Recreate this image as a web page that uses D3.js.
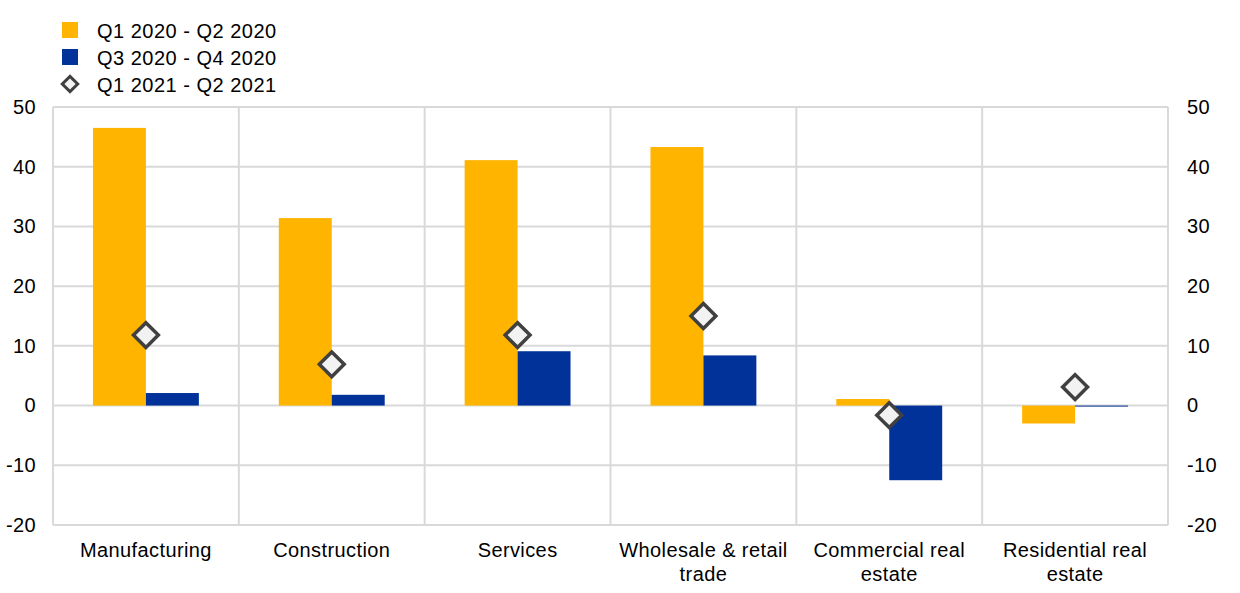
<!DOCTYPE html>
<html><head><meta charset="utf-8">
<script src="https://cdn.jsdelivr.net/npm/d3@7"></script>
<style>
body{margin:0;background:#fff;}
svg{display:block;font-family:Arial,"Liberation Sans",sans-serif;}
</style></head>
<body><svg id="c" width="1240" height="593"></svg>
<script>
const categories = ["Manufacturing","Construction","Services","Wholesale & retail trade","Commercial real estate","Residential real estate"];
const seriesNames = ["Q1 2020 - Q2 2020","Q3 2020 - Q4 2020","Q1 2021 - Q2 2021"];
const h1_2020 = [46.5, 31.4, 41.1, 43.3, 1.1, -3.0];
const h2_2020 = [2.1, 1.8, 9.1, 8.4, -12.5, -0.1];
const h1_2021 = [11.8, 6.9, 11.8, 15.0, -1.6, 3.1];
const yTicks = [-20,-10,0,10,20,30,40,50];

const colors = ["#FFB400","#003299"];
const svg = d3.select("#c");
const L=53, R=1168, T=107, B=525;
const LS = 0.4;

const x0 = d3.scaleBand().domain(categories).range([L,R]).paddingInner(0).paddingOuter(0);
const x1 = d3.scaleBand().domain([0,1]).range([0,x0.bandwidth()]).paddingInner(0).paddingOuter(0.755);
const y = d3.scaleLinear().domain([-20,50]).range([B,T]);

const grid = svg.append("g");
grid.selectAll("line.h").data(yTicks).join("line")
  .attr("x1",L).attr("x2",R).attr("y1",d=>y(d)).attr("y2",d=>y(d))
  .attr("stroke","#d9d9d9").attr("stroke-width",2);
const seps = categories.map(c=>x0(c)).concat([R]);
grid.selectAll("line.v").data(seps).join("line")
  .attr("x1",d=>d).attr("x2",d=>d).attr("y1",T).attr("y2",B)
  .attr("stroke","#d9d9d9").attr("stroke-width",2);

[h1_2020,h2_2020].forEach((vals,si)=>{
  svg.append("g").selectAll("rect").data(vals).join("rect")
    .attr("x",(d,i)=>x0(categories[i])+x1(si))
    .attr("width",x1.bandwidth())
    .attr("y",d=>y(Math.max(0,d)))
    .attr("height",d=>Math.max(Math.abs(y(d)-y(0)),1))
    .attr("fill",colors[si]);
});

const diamond = d3.symbol().type(d3.symbolSquare).size(310);
svg.append("g").selectAll("path").data(h1_2021).join("path")
  .attr("d",diamond)
  .attr("transform",(d,i)=>`translate(${x0(categories[i])+x0.bandwidth()/2},${y(d)}) rotate(45)`)
  .attr("fill","#f2f2f2").attr("stroke","#404040").attr("stroke-width",3.5);

const fmt = d=>String(d);
const yl = d3.axisLeft(y).tickValues(yTicks).tickFormat(fmt).tickSize(0).tickPadding(0);
const ga = svg.append("g").attr("transform",`translate(36,0)`).call(yl);
const yr = d3.axisRight(y).tickValues(yTicks).tickFormat(fmt).tickSize(0).tickPadding(0);
const gb = svg.append("g").attr("transform",`translate(1187,0)`).call(yr);
[ga,gb].forEach(g=>{
  g.select(".domain").remove();
  g.selectAll("text").attr("font-size",20).attr("fill","#000").attr("letter-spacing",LS)
   .attr("font-family","Arial,'Liberation Sans',sans-serif");
});

const xa = d3.axisBottom(x0).tickSize(0).tickPadding(0);
const gx = svg.append("g").attr("transform",`translate(0,${B})`).call(xa);
gx.select(".domain").remove();
gx.selectAll("text").attr("font-size",20).attr("fill","#000").attr("letter-spacing",LS)
  .attr("font-family","Arial,'Liberation Sans',sans-serif")
  .attr("dy",null).attr("y",0)
  .each(function(d){
    const t=d3.select(this); t.text(null);
    const words=d.split(" "); let lines=[], cur="";
    const tmp=t.append("tspan");
    words.forEach(w=>{
      const test=cur?cur+" "+w:w;
      tmp.text(test);
      if(tmp.node().getComputedTextLength()>176 && cur){lines.push(cur);cur=w;}else cur=test;
    });
    lines.push(cur); tmp.remove();
    lines.forEach((ln,k)=>t.append("tspan").attr("x",0).attr("y",32+k*24).text(ln));
  });

const lg = svg.append("g");
[0,1].forEach(i=>{
  lg.append("rect").attr("x",62).attr("y",22+i*27).attr("width",16).attr("height",16).attr("fill",colors[i]);
});
lg.append("path").attr("d",d3.symbol().type(d3.symbolSquare).size(120))
  .attr("transform","translate(70,84) rotate(45)")
  .attr("fill","#f2f2f2").attr("stroke","#404040").attr("stroke-width",3);
seriesNames.forEach((s,i)=>{
  lg.append("text").attr("x",97).attr("y",38+i*27).attr("font-size",20).attr("fill","#000")
    .attr("letter-spacing",0.5).text(s);
});
</script></body></html>
